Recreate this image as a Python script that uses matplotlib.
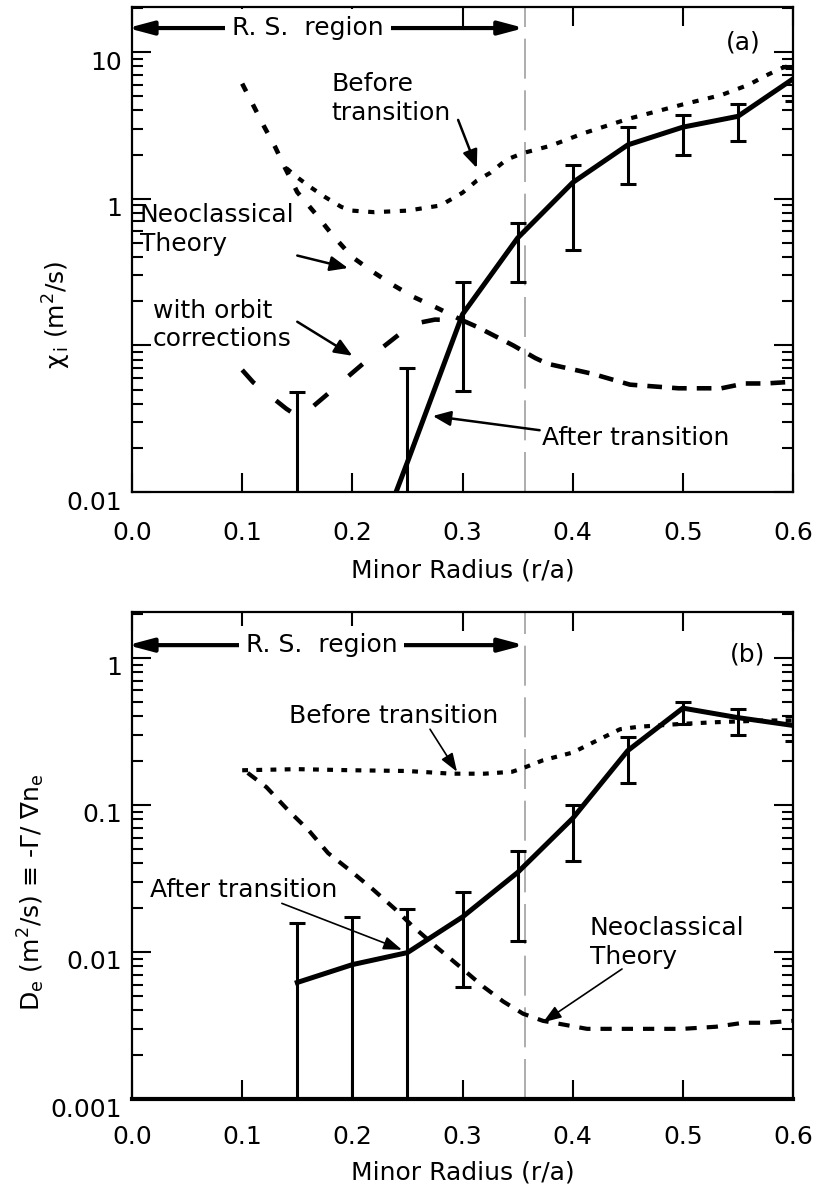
import matplotlib
matplotlib.use("Agg")
import matplotlib.pyplot as plt
from matplotlib.ticker import LogLocator, NullFormatter, FixedLocator, FixedFormatter
from matplotlib.transforms import ScaledTranslation

plt.rcParams['font.family'] = ['DejaVu Sans']
plt.rcParams['mathtext.fontset'] = 'dejavusans'
plt.rcParams['font.size'] = 18

# ---- panel (a): chi_i ----
r_a = [0.15, 0.25, 0.30, 0.35, 0.40, 0.45, 0.50, 0.55, 0.60]
chi_after = [1.7e-4, 0.016, 0.163, 0.54, 1.29, 2.33, 3.08, 3.65, 6.57]
chi_lo = [1e-5, 1e-4, 0.049, 0.27, 0.447, 1.26, 2.0, 2.47, 4.62]
chi_hi = [0.048, 0.070, 0.27, 0.68, 1.71, 3.08, 3.75, 4.44, 7.76]

r_before_a = [0.14, 0.15, 0.162, 0.175, 0.19, 0.20, 0.22, 0.25, 0.28, 0.30, 0.313,
              0.325, 0.34, 0.355, 0.38, 0.41, 0.45, 0.50, 0.535, 0.56, 0.575,
              0.59, 0.60]
chi_before = [1.62, 1.40, 1.20, 1.03, 0.88, 0.83, 0.81, 0.83, 0.90, 1.10, 1.33,
              1.50, 1.85, 2.05, 2.30, 2.80, 3.50, 4.40, 5.10, 6.00, 6.90,
              7.80, 8.20]

r_neo_a = [0.10, 0.109, 0.12, 0.13, 0.139, 0.15, 0.166, 0.182, 0.20, 0.219,
           0.237, 0.255, 0.277, 0.30, 0.313, 0.346, 0.366, 0.377, 0.418, 0.452,
           0.496, 0.535, 0.556, 0.575, 0.60]
chi_neo = [6.1, 4.5, 3.1, 2.25, 1.62, 1.11, 0.80, 0.565, 0.40, 0.316,
           0.258, 0.215, 0.18, 0.148, 0.134, 0.10, 0.082, 0.075, 0.064, 0.054,
           0.051, 0.051, 0.055, 0.055, 0.0565]

r_orbit = [0.10, 0.11, 0.14, 0.15, 0.16, 0.185, 0.20, 0.222, 0.24, 0.255, 0.275, 0.30]
chi_orbit = [0.068, 0.056, 0.037, 0.033, 0.036, 0.052, 0.065, 0.09, 0.115, 0.14, 0.15, 0.148]

# ---- panel (b): D_e ----
r_b = [0.15, 0.20, 0.25, 0.30, 0.35, 0.40, 0.45, 0.50, 0.55, 0.60]
de_after = [0.0062, 0.0082, 0.0099, 0.0173, 0.0347, 0.081, 0.234, 0.455, 0.392, 0.347]
de_lo = [1e-4, 1e-4, 1e-4, 0.0058, 0.0118, 0.0417, 0.140, 0.357, 0.298, 0.272]
de_hi = [0.0158, 0.0173, 0.0195, 0.0257, 0.0485, 0.100, 0.289, 0.499, 0.447, 0.404]

r_before_b = [0.10, 0.15, 0.20, 0.25, 0.29, 0.32, 0.345, 0.355, 0.373, 0.40,
              0.425, 0.443, 0.46, 0.50, 0.53, 0.575, 0.60]
de_before = [0.172, 0.175, 0.172, 0.170, 0.163, 0.163, 0.168, 0.178, 0.201, 0.227,
             0.281, 0.327, 0.340, 0.356, 0.365, 0.375, 0.375]

r_neo_b = [0.105, 0.122, 0.142, 0.16, 0.178, 0.198, 0.219, 0.239, 0.255, 0.277,
           0.298, 0.319, 0.337, 0.355, 0.373, 0.413, 0.45, 0.50, 0.53, 0.555,
           0.575, 0.60]
de_neo = [0.165, 0.132, 0.0915, 0.0676, 0.047, 0.0358, 0.0265, 0.0195, 0.0149, 0.0107,
          0.0079, 0.0058, 0.0046, 0.0038, 0.0034, 0.0030, 0.0030, 0.0030, 0.0031, 0.0033,
          0.0033, 0.0034]

r_rs = 0.357  # edge of reversed-shear region

xticks = [0.0, 0.1, 0.2, 0.3, 0.4, 0.5, 0.6]
xticklabels = ["0.0", "0.1", "0.2", "0.3", "0.4", "0.5", "0.6"]
yticks_a = [0.01, 0.1, 1, 10]
yticklabels_a = ["0.01", "", "1", "10"]
yticks_b = [0.001, 0.01, 0.1, 1]
yticklabels_b = ["0.001", "0.01", "0.1", "1"]


def style_axes(ax, ylim, yticks, yticklabels, xpad):
    ax.set_yscale('log')
    ax.set_xlim(0, 0.6)
    ax.set_ylim(*ylim)
    ax.xaxis.set_major_locator(FixedLocator(xticks))
    ax.xaxis.set_major_formatter(FixedFormatter(xticklabels))
    ax.yaxis.set_major_locator(FixedLocator(yticks))
    ax.yaxis.set_major_formatter(FixedFormatter(yticklabels))
    ax.yaxis.set_minor_locator(LogLocator(base=10, subs=range(2, 10), numticks=20))
    ax.yaxis.set_minor_formatter(NullFormatter())
    ax.tick_params(which='both', direction='in', top=True, right=True, width=1.5)
    ax.tick_params(which='major', length=13.5)
    ax.tick_params(which='minor', length=8)
    ax.tick_params(axis='x', pad=xpad, labelsize=18)
    ax.tick_params(axis='y', pad=7, labelsize=18)
    for s in ax.spines.values():
        s.set_linewidth(1.6)
    ax.axvline(r_rs, color='#a0a0a0', lw=1.2, dashes=(24, 7), zorder=1)
    ax.set_xlabel("Minor Radius (r/a)", fontsize=18)


def arrow(ax, xy, xytext, lw=1.8, hl=0.6, hw=0.25, ms=18):
    ax.annotate("", xy=xy, xytext=xytext, annotation_clip=False,
                arrowprops=dict(arrowstyle=f"-|>,head_length={hl},head_width={hw}",
                                color='k', lw=lw, shrinkA=0, shrinkB=0,
                                mutation_scale=ms))


def rs_region(ax, y, xc):
    ax.annotate("", xy=(-0.004, y), xytext=(r_rs - 0.001, y), annotation_clip=False,
                arrowprops=dict(arrowstyle="<|-|>,head_length=0.75,head_width=0.2",
                                color='k', lw=3, shrinkA=0, shrinkB=0,
                                mutation_scale=20), zorder=3)
    ax.text(xc, y, "R. S.  region", ha='center', va='center', zorder=4,
            bbox=dict(fc='white', ec='none', pad=5))


fig = plt.figure(figsize=(8.2, 11.96), dpi=100)
ax1 = fig.add_axes([0.161, 0.5886, 0.8061, 0.4055])
ax2 = fig.add_axes([0.161, 0.0811, 0.8061, 0.4072])

# ---------- (a) ----------
k = r_neo_a.index(0.30)
ax1.plot(r_neo_a[:k + 1], chi_neo[:k + 1], color='k', lw=3.3, dashes=(1.9, 3.2))
ax1.plot(r_neo_a[k:], chi_neo[k:], color='k', lw=3.3, dashes=(3.2, 2.2))
ax1.plot(r_orbit, chi_orbit, color='k', lw=3.3, dashes=(4, 6))
ax1.plot(r_before_a, chi_before, color='k', lw=3, dashes=(1.5, 2.3))
ax1.plot(r_a, chi_after, color='k', lw=3.6, solid_joinstyle='round')
ax1.errorbar(r_a, chi_after,
             yerr=[[v - l for v, l in zip(chi_after, chi_lo)],
                   [h - v for v, h in zip(chi_after, chi_hi)]],
             fmt='none', ecolor='k', elinewidth=2.2, capsize=6, capthick=2.2)
style_axes(ax1, (0.01, 20.3), yticks_a, yticklabels_a, 21)
ax1.xaxis.set_label_coords(0.5, -0.138)
ax1.xaxis.label.set_va('top')

rs_region(ax1, 14.6, 0.16)
ax1.text(0.555, 11.6, "(a)", ha='center', va='center')
ax1.text(0.181, 4.83, "Before\ntransition", ha='left', va='center', linespacing=1.25)
arrow(ax1, (0.313, 1.62), (0.296, 3.45))
ax1.text(0.007, 0.618, "Neoclassical\nTheory", ha='left', va='center', linespacing=1.25)
arrow(ax1, (0.196, 0.337), (0.15, 0.41))
ax1.text(0.019, 0.138, "with orbit\ncorrections", ha='left', va='center', linespacing=1.25)
arrow(ax1, (0.2, 0.085), (0.15, 0.145))
ax1.text(0.372, 0.0235, "After transition", ha='left', va='center')
arrow(ax1, (0.273, 0.033), (0.370, 0.0264))

# ---------- (b) ----------
ax2.plot(r_neo_b, de_neo, color='k', lw=3, dashes=(2.7, 2.4))
ax2.plot(r_before_b, de_before, color='k', lw=3, dashes=(1.4, 2.0))
ax2.plot(r_b, de_after, color='k', lw=3.6, solid_joinstyle='round')
ax2.errorbar(r_b, de_after,
             yerr=[[v - l for v, l in zip(de_after, de_lo)],
                   [h - v for v, h in zip(de_after, de_hi)]],
             fmt='none', ecolor='k', elinewidth=2.2, capsize=6, capthick=2.2)
style_axes(ax2, (0.001, 2.05), yticks_b, yticklabels_b, 19)
ax2.spines['bottom'].set_linewidth(3)
ax2.xaxis.set_label_coords(0.5, -0.127)
ax2.xaxis.label.set_va('top')

rs_region(ax2, 1.22, 0.172)
ax2.text(0.559, 1.06, "(b)", ha='center', va='center')
ax2.text(0.1425, 0.40, "Before transition", ha='left', va='center')
arrow(ax2, (0.295, 0.168), (0.2705, 0.327), lw=1.2, hl=0.7, hw=0.25, ms=16)
ax2.text(0.0163, 0.0265, "After transition", ha='left', va='center')
arrow(ax2, (0.245, 0.01035), (0.136, 0.0214), lw=1.2, hl=0.7, hw=0.25, ms=16)
ax2.text(0.4157, 0.01153, "Neoclassical\nTheory", ha='left', va='center', linespacing=1.25)
arrow(ax2, (0.373, 0.00332), (0.4448, 0.00766), lw=1.2, hl=0.7, hw=0.25, ms=16)

# y labels placed by their centres
fig.text(57 / 820, 1 - 315 / 1196, "χ$_{\\,\\mathrm{i}}$ (m$^2$/s)",
         rotation=90, ha='center', va='center', fontsize=18)
fig.text(31 / 820, 1 - 892 / 1196,
         "D$_\\mathrm{e}$ (m$^2$/s) ≡ -Γ/ ∇n$_\\mathrm{e}$",
         rotation=90, ha='center', va='center', fontsize=18)

# tick labels on the y axes sit a little below their ticks
off = ScaledTranslation(0, -8 / 100, fig.dpi_scale_trans)
for ax in (ax1, ax2):
    for lab in ax.get_yticklabels():
        lab.set_transform(lab.get_transform() + off)

fig.savefig("out.png", dpi=100)
